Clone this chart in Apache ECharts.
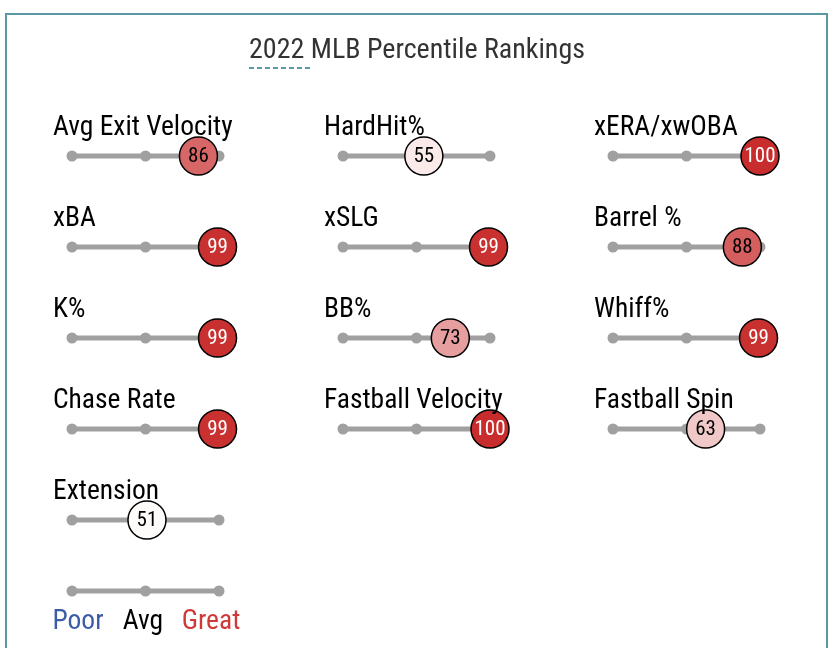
<!DOCTYPE html>
<html>
<head>
<meta charset="utf-8">
<script src="https://cdn.jsdelivr.net/npm/echarts@6/dist/echarts.min.js"></script>
<style>html,body{margin:0;padding:0;background:#fff}#c{width:834px;height:648px}</style>
</head>
<body>
<div id="c"></div>
<script>
var chartTitle = '2022 MLB Percentile Rankings';
var metrics = ['Avg Exit Velocity', 'HardHit%', 'xERA/xwOBA', 'xBA', 'xSLG', 'Barrel %', 'K%', 'BB%', 'Whiff%', 'Chase Rate', 'Fastball Velocity', 'Fastball Spin', 'Extension'];
var percentiles = [86, 55, 100, 99, 99, 88, 99, 73, 99, 99, 100, 63, 51];
var trackTicks = [0, 50, 100];
var legendLabels = ['Poor', 'Avg', 'Great'];

var FONT = '"Roboto Condensed", "Liberation Sans Narrow", "DejaVu Sans Condensed", Roboto, sans-serif';
var colX = [72, 343, 613];
var rowY = [156, 247, 338, 429, 520];
var legendY = 591;
var trackW = 147;

function mix(a, b, t) {
  return 'rgb(' + a.map(function (v, i) { return Math.round(v + (b[i] - v) * t); }).join(',') + ')';
}
function pctColor(v) {
  var white = [255, 255, 255], red = [200, 44, 44], blue = [44, 80, 160];
  if (v >= 50) return mix(white, red, (v - 50) / 50);
  return mix(white, blue, (50 - v) / 50);
}

var grids = [], xAxes = [], yAxes = [], series = [], titles = [];
titles.push({ text: chartTitle, left: 'center', top: 37, padding: 0,
  textStyle: { fontFamily: FONT, fontSize: 28, fontWeight: 'normal', color: '#333' } });

function addTrack(idx, x, y) {
  grids.push({ left: x, top: y - 10, width: trackW, height: 20 });
  xAxes.push({ gridIndex: idx, type: 'value', min: 0, max: 100, show: false });
  yAxes.push({ gridIndex: idx, type: 'value', min: -1, max: 1, show: false });
  series.push({
    type: 'line', xAxisIndex: idx, yAxisIndex: idx, silent: true,
    data: trackTicks.map(function (t) { return [t, 0]; }),
    symbol: 'circle', symbolSize: 11, showSymbol: true,
    lineStyle: { color: '#a0a0a0', width: 5 },
    itemStyle: { color: '#a0a0a0' }, z: 2
  });
}

metrics.forEach(function (m, i) {
  var col = i % 3, row = Math.floor(i / 3);
  var x = colX[col], y = rowY[row];
  addTrack(i, x, y);
  var v = percentiles[i];
  series.push({
    type: 'scatter', xAxisIndex: i, yAxisIndex: i, silent: true,
    data: [[v, 0]], symbolSize: 38, z: 5,
    itemStyle: { color: pctColor(v), borderColor: '#000', borderWidth: 1.5, opacity: 1 },
    label: { show: true, position: 'inside', offset: [0, 1], formatter: String(v),
      fontFamily: FONT, fontSize: 21, color: v >= 90 ? '#fff' : '#000' }
  });
  titles.push({ text: m, left: x - 19, top: y - 42, padding: 0,
    textStyle: { fontFamily: FONT, fontSize: 27.5, fontWeight: 'normal', color: '#000' } });
});

addTrack(metrics.length, colX[0], legendY);
var legendColors = ['#3b5ca6', '#000', '#d0393a'];
var legendCenters = [78, 143, 211];
legendLabels.forEach(function (l, k) {
  titles.push({ text: l, left: legendCenters[k], top: legendY + 17, padding: 0,
    textAlign: 'center',
    textStyle: { fontFamily: FONT, fontSize: 27.5, fontWeight: 'normal', color: legendColors[k] } });
});

var chart = echarts.init(document.getElementById('c'));
chart.setOption({
  animation: false,
  title: titles,
  grid: grids, xAxis: xAxes, yAxis: yAxes, series: series,
  graphic: [
    { type: 'rect', shape: { x: 6, y: 14, width: 821, height: 660 },
      style: { fill: 'none', stroke: '#5b98a6', lineWidth: 2 }, z: 0 },
    { type: 'line', shape: { x1: 249, y1: 68, x2: 311, y2: 68 },
      style: { stroke: '#5b98a6', lineWidth: 2, lineDash: [5, 3] }, z: 0 }
  ]
});
</script>
</body>
</html>
